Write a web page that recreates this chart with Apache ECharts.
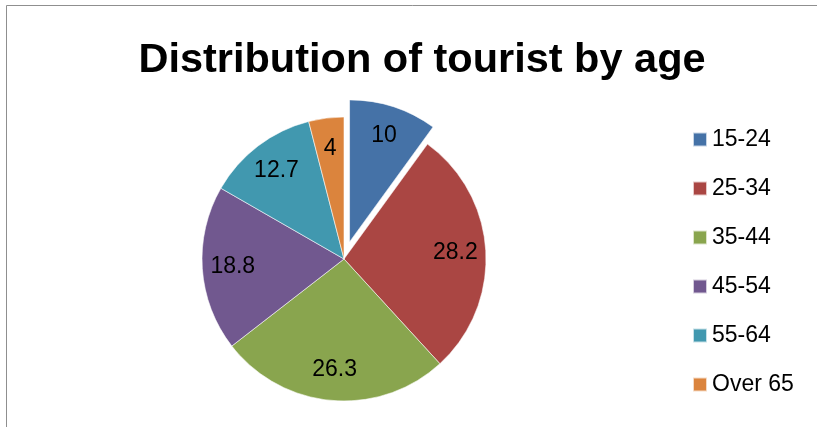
<!DOCTYPE html>
<html>
<head>
<meta charset="utf-8">
<script src="https://cdn.jsdelivr.net/npm/echarts@6/dist/echarts.min.js"></script>
<style>
html,body{margin:0;padding:0;background:#fff;}
#chart{width:817px;height:427px;}
</style>
</head>
<body>
<div id="chart"></div>
<script>
const categories = ['15-24', '25-34', '35-44', '45-54', '55-64', 'Over 65'];
const values = [10, 28.2, 26.3, 18.8, 12.7, 4];
const colors = ['#4572A7', '#AA4643', '#89A54E', '#71588F', '#4198AF', '#DB843D'];
const titleText = 'Distribution of tourist by age';

const chart = echarts.init(document.getElementById('chart'), null, {renderer: 'canvas'});

const pieData = categories.map((c, i) => ({
  name: c, value: values[i], selected: i === 0,
  itemStyle: {color: colors[i]}
}));
const labelData = categories.map((c, i) => ({
  name: c, value: values[i], selected: i === 0
}));

chart.setOption({
  animation: false,
  backgroundColor: '#fff',
  color: colors,
  graphic: [{
    type: 'rect', silent: true, z: -1,
    shape: {x: 6.5, y: 5.5, width: 900, height: 600},
    style: {fill: 'none', stroke: '#8f8f8f', lineWidth: 1}
  }],
  title: {
    text: titleText,
    left: 417, textAlign: 'center', top: 35,
    textStyle: {fontFamily: 'Liberation Sans', fontWeight: 'bold', fontSize: 41.5, color: '#000'}
  },
  legend: {
    orient: 'vertical',
    left: 692, top: 128, padding: 0,
    itemWidth: 14, itemHeight: 14, itemGap: 26,
    icon: 'rect',
    data: categories,
    textStyle: {fontFamily: 'Liberation Sans', fontSize: 23, lineHeight: 22, color: '#000'}
  },
  series: [{
    type: 'pie',
    center: [344, 259],
    radius: [0, 142],
    startAngle: 90,
    clockwise: true,
    selectedMode: 'multiple',
    selectedOffset: 18,
    avoidLabelOverlap: false,
    label: {show: false},
    labelLine: {show: false},
    emphasis: {disabled: true},
    itemStyle: {borderColor: 'rgba(255,255,255,0.7)', borderWidth: 0.8},
    data: pieData
  }, {
    type: 'pie',
    center: [344, 259],
    radius: [75, 142],
    startAngle: 90,
    clockwise: true,
    selectedMode: 'multiple',
    selectedOffset: 18,
    silent: true,
    avoidLabelOverlap: false,
    itemStyle: {color: 'rgba(0,0,0,0)', borderWidth: 0},
    label: {
      show: true, position: 'inside',
      formatter: p => String(p.value),
      fontFamily: 'Liberation Sans', fontSize: 23, color: '#000'
    },
    labelLine: {show: false},
    emphasis: {disabled: true},
    data: labelData
  }]
});
</script>
</body>
</html>
